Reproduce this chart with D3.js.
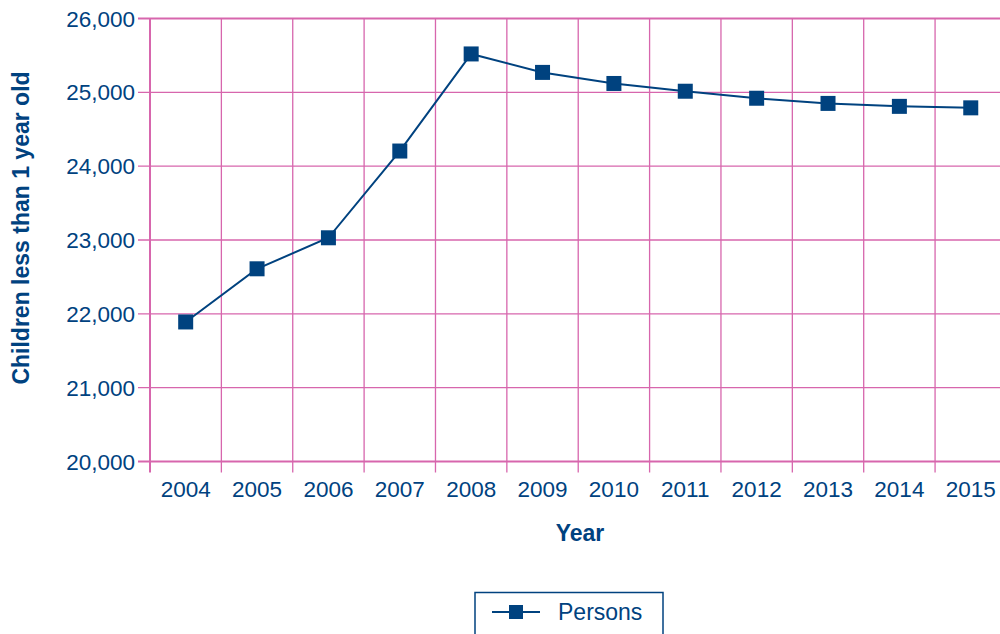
<!DOCTYPE html>
<html><head><meta charset="utf-8">
<script src="https://cdn.jsdelivr.net/npm/d3@7"></script>
<style>body{margin:0;background:#fff}svg{display:block}text{font-family:"Liberation Sans",Arial,sans-serif}</style>
</head><body>
<svg id="c" width="1000" height="634"></svg>
<script>
const years = ["2004","2005","2006","2007","2008","2009","2010","2011","2012","2013","2014","2015"];
const persons = [21890,22610,23030,24205,25520,25270,25120,25015,24920,24850,24810,24790];
const yTicks = [20000,21000,22000,23000,24000,25000,26000];

const navy = "#00427f", pink = "#d766ad";
const svg = d3.select("#c");
const L = 150, T = 18.5, B = 461.5, step = 71.37;
const x = d3.scaleBand().domain(years).range([L, L + step*years.length]).padding(0);
const y = d3.scaleLinear().domain([20000,26000]).range([B, T]);

svg.append("g").selectAll("line").data(yTicks).join("line")
  .attr("x1", 138).attr("x2", 1000)
  .attr("y1", d => y(d)).attr("y2", d => y(d))
  .attr("stroke", pink).attr("stroke-width", d => (d===20000||d===26000)?2:1.3);
const bounds = years.slice(1).map(d => x(d));
svg.append("g").selectAll("line").data(bounds).join("line")
  .attr("x1", d => d).attr("x2", d => d)
  .attr("y1", T).attr("y2", B + 11)
  .attr("stroke", pink).attr("stroke-width", 1.3);
svg.append("line").attr("x1", L).attr("x2", L).attr("y1", T).attr("y2", B + 11)
  .attr("stroke", pink).attr("stroke-width", 2);

svg.append("g").selectAll("text").data(yTicks).join("text")
  .attr("x", 135).attr("y", d => y(d) + 8)
  .attr("text-anchor", "end").attr("font-size", 22.5).attr("fill", navy)
  .text(d => d3.format(",")(d));
svg.append("g").selectAll("text").data(years).join("text")
  .attr("x", d => x(d) + x.bandwidth()/2).attr("y", 497)
  .attr("text-anchor", "middle").attr("font-size", 22.5).attr("fill", navy)
  .text(d => d);

svg.append("text").attr("transform", "translate(29,228) rotate(-90)")
  .attr("text-anchor", "middle").attr("font-size", 23).attr("font-weight", "bold").attr("fill", navy)
  .text("Children less than 1 year old");
svg.append("text").attr("x", 580).attr("y", 541)
  .attr("text-anchor", "middle").attr("font-size", 23).attr("font-weight", "bold").attr("fill", navy)
  .text("Year");

const cx = d => x(d) + x.bandwidth()/2;
svg.append("path").datum(years.map((d,i)=>[d,persons[i]]))
  .attr("fill","none").attr("stroke", navy).attr("stroke-width", 2)
  .attr("d", d3.line().x(d => cx(d[0])).y(d => y(d[1])));
const s = 15;
svg.append("g").selectAll("rect").data(years.map((d,i)=>[d,persons[i]])).join("rect")
  .attr("x", d => cx(d[0]) - s/2).attr("y", d => y(d[1]) - s/2)
  .attr("width", s).attr("height", s).attr("fill", navy);

const lg = svg.append("g");
lg.append("rect").attr("x", 475).attr("y", 592.5).attr("width", 188).attr("height", 50)
  .attr("fill", "none").attr("stroke", navy).attr("stroke-width", 1.5);
lg.append("line").attr("x1", 492).attr("x2", 540).attr("y1", 612).attr("y2", 612)
  .attr("stroke", navy).attr("stroke-width", 2);
lg.append("rect").attr("x", 509).attr("y", 605).attr("width", 14).attr("height", 14).attr("fill", navy);
lg.append("text").attr("x", 558).attr("y", 620).attr("font-size", 23).attr("fill", navy).text("Persons");
</script>
</body></html>
